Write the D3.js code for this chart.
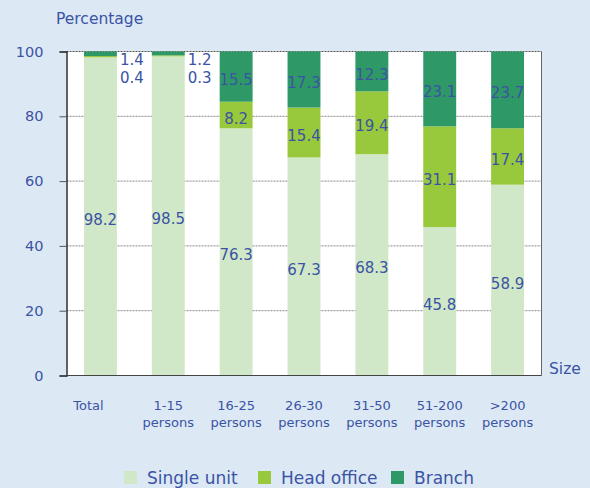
<!DOCTYPE html>
<html>
<head>
<meta charset="utf-8">
<script src="https://cdn.jsdelivr.net/npm/d3@7"></script>
<style>
  body { margin: 0; background: #dce9f4; }
  svg { display: block; font-family: "DejaVu Sans", sans-serif; }
</style>
</head>
<body>
<svg id="chart" width="590" height="488"></svg>
<script>
const categories = ["Total", "1-15 persons", "16-25 persons", "26-30 persons", "31-50 persons", "51-200 persons", ">200 persons"];
const seriesNames = ["Single unit", "Head office", "Branch"];
const singleUnit = [98.2, 98.5, 76.3, 67.3, 68.3, 45.8, 58.9];
const headOffice = [0.4, 0.3, 8.2, 15.4, 19.4, 31.1, 17.4];
const branch = [1.4, 1.2, 15.5, 17.3, 12.3, 23.1, 23.7];
const yTicks = [0, 20, 40, 60, 80, 100];

const colors = ["#d1e8c8", "#98c93c", "#2e9966"];
const textColor = "#3b53a4";

const svg = d3.select("#chart");
const margin = { left: 66.5, right: 48.5, top: 51.5, bottom: 112.5 };
const width = 590 - margin.left - margin.right;
const height = 488 - margin.top - margin.bottom;

const rows = categories.map((c, i) => ({
  cat: c,
  "Single unit": singleUnit[i],
  "Head office": headOffice[i],
  "Branch": branch[i]
}));
const stacked = d3.stack().keys(seriesNames)(rows);

const x = d3.scaleBand().domain(categories).range([0, width]).paddingInner(0.515).paddingOuter(0.2575);
const y = d3.scaleLinear().domain([0, 100]).range([height, 0]);

const g = svg.append("g").attr("transform", `translate(${margin.left},${margin.top})`);

g.append("rect").attr("width", width).attr("height", height).attr("fill", "#fff");

// grid
g.selectAll(".grid")
  .data(yTicks.filter(d => d > 0))
  .enter()
  .append("line")
  .attr("x1", 0).attr("x2", width)
  .attr("y1", d => y(d)).attr("y2", d => y(d))
  .attr("stroke", d => d === 100 ? "#555" : "#888")
  .attr("stroke-width", 1)
  .attr("stroke-dasharray", "2,1");

// bars
const layers = g.selectAll(".layer")
  .data(stacked)
  .enter()
  .append("g")
  .attr("fill", (d, i) => colors[i]);

layers.selectAll("rect")
  .data(d => d)
  .enter()
  .append("rect")
  .attr("x", d => x(d.data.cat))
  .attr("width", x.bandwidth())
  .attr("y", d => y(d[1]))
  .attr("height", d => y(d[0]) - y(d[1]));

// right border
g.append("line").attr("x1", width).attr("x2", width).attr("y1", 0).attr("y2", height)
  .attr("stroke", "#666").attr("stroke-width", 1);

// axes
const yAxis = g.append("g").call(d3.axisLeft(y).tickValues(yTicks).tickSize(7).tickPadding(16));
yAxis.select(".domain").attr("stroke", "#111").attr("stroke-width", 1.3);
yAxis.selectAll(".tick line").attr("stroke", "#555");
yAxis.selectAll("text").attr("fill", textColor).attr("font-size", 14.5).attr("font-family", "DejaVu Sans");

g.append("line").attr("x1", 0).attr("x2", width).attr("y1", height).attr("y2", height)
  .attr("stroke", "#444").attr("stroke-width", 1);

// x labels
const xl = g.selectAll(".xlab")
  .data(categories)
  .enter()
  .append("text")
  .attr("text-anchor", "middle")
  .attr("fill", textColor)
  .attr("font-size", 13)
  .attr("transform", d => `translate(${x(d) + x.bandwidth() / 2 - (d === "Total" ? 12 : 0)},${height + 34})`);
xl.each(function(d) {
  const parts = d.split(" ");
  const t = d3.select(this);
  parts.forEach((p, k) => {
    t.append("tspan").attr("x", 0).attr("dy", k === 0 ? 0 : 17).text(p);
  });
});

// value labels
stacked.forEach((layer, si) => {
  layer.forEach((d, ci) => {
    const v = d[1] - d[0];
    const bx = x(d.data.cat);
    if (v >= 5) {
      g.append("text")
        .attr("x", bx + x.bandwidth() / 2)
        .attr("y", (y(d[0]) + y(d[1])) / 2 + 8.5)
        .attr("text-anchor", "middle")
        .attr("fill", textColor)
        .attr("font-size", 15)
        .text(v.toFixed(1));
    } else {
      g.append("text")
        .attr("x", bx + x.bandwidth() + 3)
        .attr("y", y(100) + (si === 2 ? 13 : 31))
        .attr("fill", textColor)
        .attr("font-size", 15)
        .text(v.toFixed(1));
    }
  });
});

// titles
svg.append("text").attr("x", 56).attr("y", 24).attr("fill", textColor).attr("font-size", 15.5).text("Percentage");
svg.append("text").attr("x", 549).attr("y", 374).attr("fill", textColor).attr("font-size", 15.5).text("Size");

// legend
const legendX = [124, 258, 391];
const lg = svg.selectAll(".legend")
  .data(seriesNames)
  .enter()
  .append("g")
  .attr("transform", (d, i) => `translate(${legendX[i]},471)`);
lg.append("rect").attr("width", 13).attr("height", 13).attr("fill", (d, i) => colors[i]);
lg.append("text").attr("x", 23).attr("y", 13).attr("fill", textColor).attr("font-size", 17).text(d => d);
</script>
</body>
</html>
